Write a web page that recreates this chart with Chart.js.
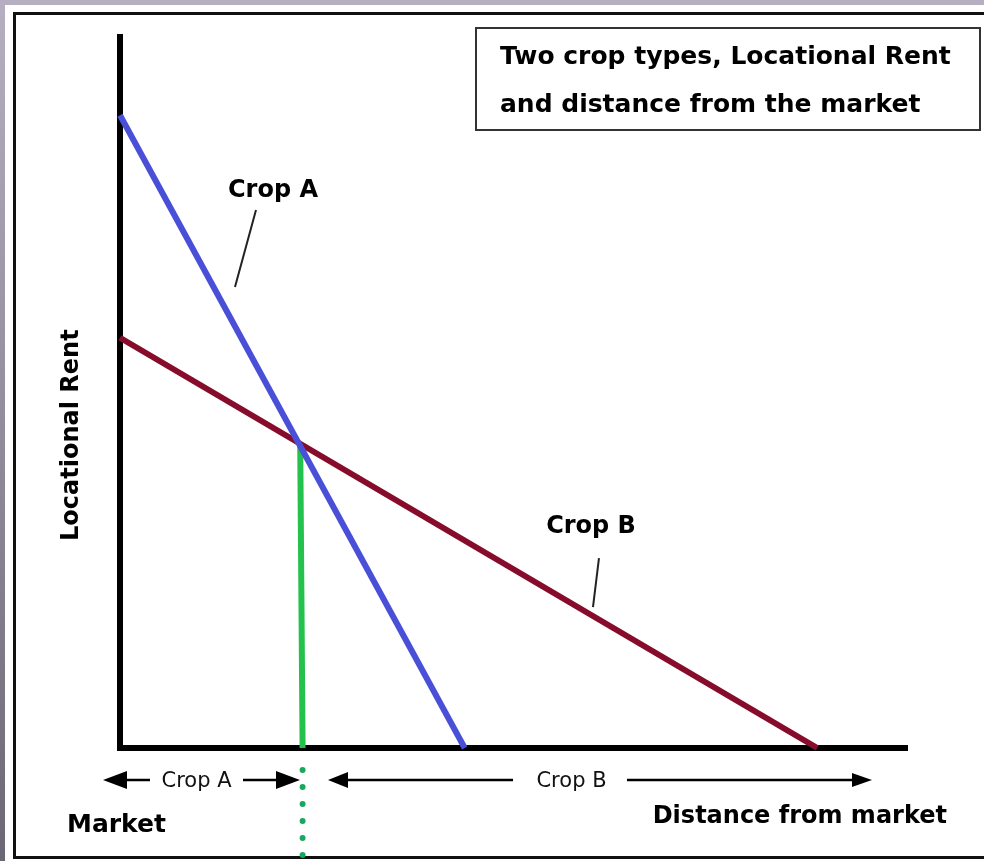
<!DOCTYPE html>
<html>
<head>
<meta charset="utf-8">
<script src="https://cdn.jsdelivr.net/npm/chart.js@4.4.1/dist/chart.umd.min.js"></script>
<style>
  html, body { margin: 0; padding: 0; }
  body {
    width: 984px;
    height: 861px;
    overflow: hidden;
    background: linear-gradient(#b6afc1, #6c6775);
    position: relative;
  }
  #paper {
    position: absolute;
    left: 5px;
    top: 5px;
    width: 990px;
    height: 860px;
    background: #fff;
  }
  #frame {
    position: absolute;
    left: 13px;
    top: 12px;
    width: 990px;
    height: 841px;
    border: 3px solid #111;
  }
  #rentChart { position: absolute; left: 0; top: 0; }
</style>
</head>
<body>
<div id="paper"></div>
<div id="frame"></div>
<canvas id="rentChart" width="984" height="861"></canvas>
<script>
// distance from market (x) and locational rent (y), in arbitrary units
let cropADistance = [0, 43.8];
let cropARent = [89, 0];
let cropBDistance = [0, 88.6];
let cropBRent = [57.7, 0];
let boundaryDistance = [22.9, 23.2];
let boundaryRent = [42.5, 0];

let titleLines = ["Two crop types, Locational Rent", "and distance from the market"];

function points(xs, ys) {
  return xs.map((x, i) => ({ x: x, y: ys[i] }));
}

function arrowHead(ctx, tipX, y, dir, len, half) {
  ctx.beginPath();
  ctx.moveTo(tipX, y);
  ctx.lineTo(tipX - dir * len, y - half);
  ctx.lineTo(tipX - dir * len, y + half);
  ctx.closePath();
  ctx.fill();
}

let annotations = {
  id: "annotations",
  afterDatasetsDraw(chart) {
    let ctx = chart.ctx;
    let X = (v) => chart.scales.x.getPixelForValue(v);
    let Y = (v) => chart.scales.y.getPixelForValue(v);
    ctx.save();

    // dotted continuation of the boundary below the axis
    ctx.strokeStyle = "#16a85e";
    ctx.lineWidth = 6;
    ctx.lineCap = "round";
    ctx.setLineDash([0, 17]);
    ctx.beginPath();
    ctx.moveTo(X(boundaryDistance[1]), Y(0) + 22);
    ctx.lineTo(X(boundaryDistance[1]), chart.height);
    ctx.stroke();
    ctx.setLineDash([]);
    ctx.lineCap = "butt";

    // title box
    ctx.fillStyle = "#fff";
    ctx.fillRect(476, 28, 504, 102);
    ctx.strokeStyle = "#333";
    ctx.lineWidth = 2;
    ctx.strokeRect(476, 28, 504, 102);
    ctx.fillStyle = "#000";
    ctx.font = "bold 25px 'DejaVu Sans'";
    ctx.textAlign = "left";
    ctx.textBaseline = "alphabetic";
    ctx.fillText(titleLines[0], 500, 64);
    ctx.fillText(titleLines[1], 500, 112);

    // line labels with leaders
    ctx.font = "bold 24px 'DejaVu Sans'";
    ctx.textAlign = "center";
    ctx.fillText("Crop A", X(19.44), Y(77.5));
    ctx.fillText("Crop B", X(59.85), Y(30.24));
    ctx.strokeStyle = "#222";
    ctx.lineWidth = 2;
    ctx.beginPath();
    ctx.moveTo(X(17.28), Y(75.67));
    ctx.lineTo(X(14.61), Y(64.84));
    ctx.moveTo(X(60.86), Y(26.72));
    ctx.lineTo(X(60.10), Y(19.83));
    ctx.stroke();

    // zone arrows under the axis
    let ay = Y(-4.5);
    ctx.strokeStyle = "#000";
    ctx.lineWidth = 2.5;
    ctx.beginPath();
    ctx.moveTo(X(-2.16) + 10, ay);
    ctx.lineTo(X(3.81), ay);
    ctx.moveTo(X(15.63), ay);
    ctx.lineTo(X(22.87) - 10, ay);
    ctx.moveTo(X(26.43) + 10, ay);
    ctx.lineTo(X(49.94), ay);
    ctx.moveTo(X(64.42), ay);
    ctx.lineTo(X(95.55) - 10, ay);
    ctx.stroke();
    ctx.fillStyle = "#000";
    arrowHead(ctx, X(-2.16), ay, -1, 24, 9);
    arrowHead(ctx, X(22.87), ay, 1, 24, 9);
    arrowHead(ctx, X(26.43), ay, -1, 20, 8);
    arrowHead(ctx, X(95.55), ay, 1, 20, 7);

    ctx.font = "21px 'DejaVu Sans'";
    ctx.fillStyle = "#111";
    ctx.fillText("Crop A", X(9.72), Y(-5.49));
    ctx.fillText("Crop B", X(57.37), Y(-5.49));

    // axis titles
    ctx.fillStyle = "#000";
    ctx.font = "bold 25px 'DejaVu Sans'";
    ctx.textAlign = "left";
    ctx.fillText("Market", X(-6.73), Y(-11.81));
    ctx.font = "bold 24px 'DejaVu Sans'";
    ctx.textAlign = "right";
    ctx.fillText("Distance from market", X(105.08), Y(-10.55));

    ctx.translate(X(-6.1), Y(44));
    ctx.rotate(-Math.PI / 2);
    ctx.textAlign = "center";
    ctx.textBaseline = "middle";
    ctx.fillText("Locational Rent", 0, 0);

    ctx.restore();
  },
};

new Chart(document.querySelector("#rentChart"), {
  type: "scatter",
  data: {
    datasets: [
      {
        label: "Crop A",
        data: points(cropADistance, cropARent),
        showLine: true,
        borderColor: "#4a4fd8",
        borderWidth: 6,
        pointRadius: 0,
        clip: false,
      },
      {
        label: "Crop B",
        data: points(cropBDistance, cropBRent),
        showLine: true,
        borderColor: "#870c2c",
        borderWidth: 6,
        pointRadius: 0,
        clip: false,
      },
      {
        label: "Boundary",
        data: points(boundaryDistance, boundaryRent),
        showLine: true,
        borderColor: "#24c24c",
        borderWidth: 6,
        pointRadius: 0,
        clip: false,
      },
    ],
  },
  options: {
    responsive: false,
    animation: false,
    layout: {
      padding: { left: 120, top: 37, right: 77, bottom: 113 },
    },
    scales: {
      x: {
        min: 0,
        max: 100,
        grid: { display: false, drawTicks: false },
        ticks: { display: false },
        border: { display: true, color: "#000", width: 6 },
      },
      y: {
        min: 0,
        max: 100,
        grid: { display: false, drawTicks: false },
        ticks: { display: false },
        border: { display: true, color: "#000", width: 6 },
      },
    },
    plugins: {
      legend: { display: false },
      tooltip: { enabled: false },
    },
  },
  plugins: [annotations],
});
</script>
</body>
</html>
